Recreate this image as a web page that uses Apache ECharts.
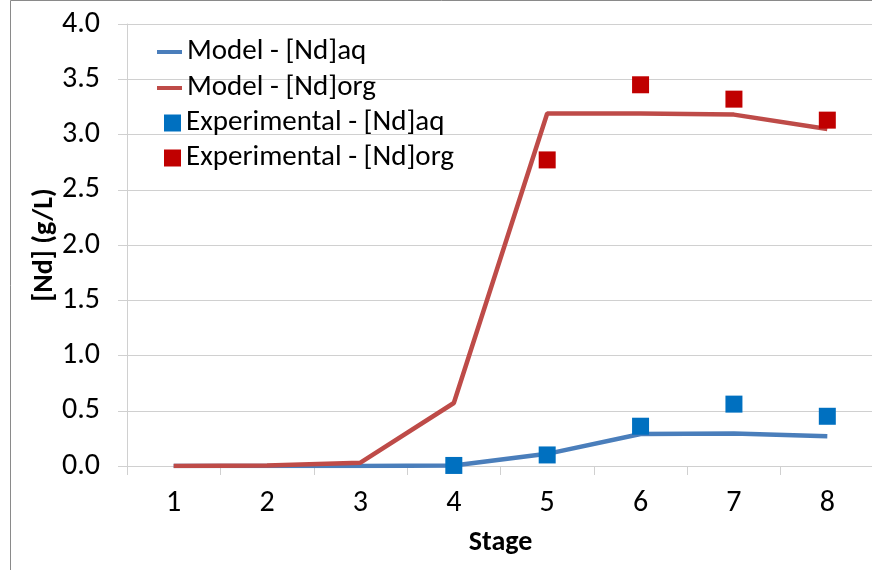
<!DOCTYPE html>
<html>
<head>
<meta charset="utf-8">
<script src="https://cdn.jsdelivr.net/npm/echarts@6/dist/echarts.min.js"></script>
<style>
  html, body { margin: 0; padding: 0; background: #fff; }
  #chart { width: 872px; height: 570px; }
</style>
</head>
<body>
<div id="chart"></div>
<script>
const stages = ['1', '2', '3', '4', '5', '6', '7', '8'];
const modelAq = [0, 0, 0, 0.005, 0.11, 0.29, 0.295, 0.27];
const modelOrg = [0, 0.005, 0.03, 0.57, 3.19, 3.19, 3.18, 3.05];
const expAq = [null, null, null, 0.005, 0.10, 0.36, 0.56, 0.45];
const expOrg = [null, null, null, null, 2.77, 3.45, 3.32, 3.13];
const yTicks = { min: 0, max: 4, interval: 0.5 };

const FONT = 'Carlito, Calibri, Lato, sans-serif';
const chart = echarts.init(document.getElementById('chart'), null, { renderer: 'canvas' });

const legendText = { fontFamily: FONT, fontSize: 29, color: '#000', lineHeight: 30 };
function lineLegend(name, top) {
  return { orient: 'vertical', left: 157, top: top, padding: 0,
    itemWidth: 25, itemHeight: 4, icon: 'rect', data: [name], textStyle: legendText };
}
function boxLegend(name, top) {
  return { orient: 'vertical', left: 164, top: top, padding: 0,
    itemWidth: 17, itemHeight: 17, icon: 'rect', data: [name], textStyle: legendText };
}

chart.setOption({
  animation: false,
  backgroundColor: '#fff',
  textStyle: { fontFamily: FONT, color: '#000' },
  graphic: [{
    type: 'rect',
    shape: { x: 10.5, y: 0.5, width: 900, height: 600 },
    style: { fill: 'none', stroke: '#8a8a8a', lineWidth: 1 },
    silent: true,
    z: -10
  }],
  grid: { left: 127, top: 24, width: 747, height: 442, outerBoundsMode: 'none', containLabel: false },
  legend: [
    lineLegend('Model - [Nd]aq', 37),
    lineLegend('Model - [Nd]org', 73),
    boxLegend('Experimental - [Nd]aq', 108),
    boxLegend('Experimental - [Nd]org', 143)
  ],
  xAxis: {
    type: 'category',
    data: stages,
    boundaryGap: true,
    name: 'Stage',
    nameLocation: 'middle',
    nameGap: 63,
    nameMoveOverlap: false,
    nameTextStyle: { fontFamily: FONT, fontSize: 28, fontWeight: 'bold', color: '#000' },
    axisLine: { show: true, lineStyle: { color: '#d0d0d0', width: 1 } },
    axisTick: { show: true, length: 9, lineStyle: { color: '#d0d0d0' } },
    axisLabel: { fontFamily: FONT, fontSize: 30, color: '#000', margin: 22 },
    splitLine: { show: false }
  },
  yAxis: {
    type: 'value',
    min: yTicks.min, max: yTicks.max, interval: yTicks.interval,
    name: '[Nd] (g/L)',
    nameLocation: 'middle',
    nameGap: 68,
    nameMoveOverlap: false,
    nameRotate: 90,
    nameTextStyle: { fontFamily: FONT, fontSize: 28, fontWeight: 'bold', color: '#000' },
    axisLine: { show: true, lineStyle: { color: '#d0d0d0', width: 1 } },
    axisTick: { show: true, length: 9, lineStyle: { color: '#d0d0d0' } },
    axisLabel: { fontFamily: FONT, fontSize: 30, color: '#000', margin: 27,
      formatter: v => v.toFixed(1) },
    splitLine: { show: true, lineStyle: { color: '#d0d0d0', width: 1 } }
  },
  series: [{
    name: 'Model - [Nd]aq',
    type: 'line',
    data: modelAq,
    symbol: 'none',
    itemStyle: { color: '#4A7EBB' },
    lineStyle: { color: '#4A7EBB', width: 4.5 },
    z: 2
  }, {
    name: 'Model - [Nd]org',
    type: 'line',
    data: modelOrg,
    symbol: 'none',
    itemStyle: { color: '#BE4B48' },
    lineStyle: { color: '#BE4B48', width: 4.5 },
    z: 3
  }, {
    name: 'Experimental - [Nd]aq',
    type: 'scatter',
    data: expAq,
    symbol: 'rect',
    symbolSize: 17,
    itemStyle: { color: '#0070C0', opacity: 1 },
    z: 4
  }, {
    name: 'Experimental - [Nd]org',
    type: 'scatter',
    data: expOrg,
    symbol: 'rect',
    symbolSize: 17,
    itemStyle: { color: '#C00000', opacity: 1 },
    z: 5
  }]
});
</script>
</body>
</html>
